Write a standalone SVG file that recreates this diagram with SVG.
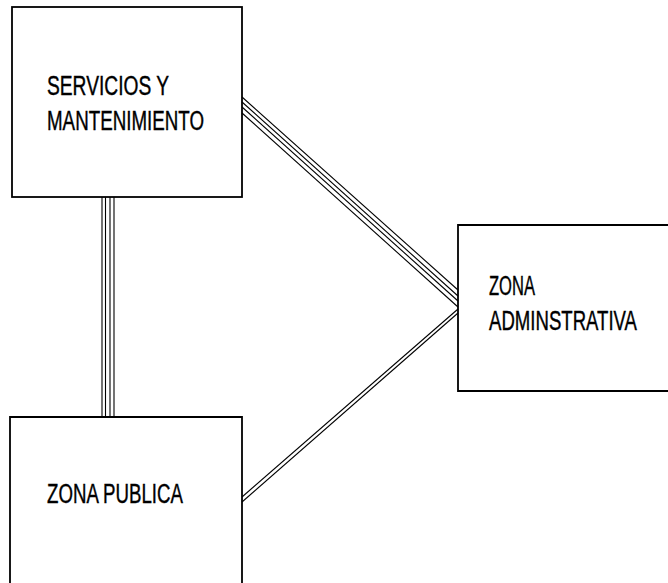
<svg xmlns="http://www.w3.org/2000/svg" width="668" height="583" viewBox="0 0 668 583">
  <style>
    .box { fill: none; stroke: #000000; stroke-width: 1.8; }
    .link line { stroke: #000000; stroke-width: 1.1; }
    .label { font-family: "Liberation Sans", "DejaVu Sans", sans-serif; font-size: 20px; fill: #000000; stroke: #000000; stroke-width: 0.3; }
  </style>
  <rect width="668" height="583" fill="#ffffff"/>

  <!-- connectors -->
  <g id="connectors" class="link">
    <!-- servicios to zona publica: quadruple vertical line -->
    <line x1="102" y1="197" x2="102" y2="417"/>
    <line x1="105.5" y1="197" x2="105.5" y2="417"/>
    <line x1="110" y1="197" x2="110" y2="417"/>
    <line x1="114" y1="197" x2="114" y2="417"/>
    <!-- servicios to zona administrativa: quadruple diagonal line -->
    <line x1="242" y1="97" x2="458" y2="290"/>
    <line x1="242" y1="102" x2="458" y2="296"/>
    <line x1="242" y1="107" x2="458" y2="301"/>
    <line x1="242" y1="113" x2="458" y2="307"/>
    <!-- zona publica to zona administrativa: double diagonal line -->
    <line x1="242" y1="497" x2="458" y2="309"/>
    <line x1="242" y1="502" x2="458" y2="313"/>
  </g>

  <!-- labels use tall, narrow lettering: stretched vertically -->
  <g id="servicios">
    <rect class="box" x="12" y="7" width="230" height="190"/>
    <text class="label" transform="translate(47,95) scale(1,1.4)" textLength="122" lengthAdjust="spacingAndGlyphs">SERVICIOS Y</text>
    <text class="label" transform="translate(47,130) scale(1,1.4)" textLength="157" lengthAdjust="spacingAndGlyphs">MANTENIMIENTO</text>
  </g>

  <g id="zona-administrativa">
    <!-- box runs past the right edge of the sheet -->
    <path class="box" d="M668,225 H458 V391 H668"/>
    <text class="label" transform="translate(489,295) scale(1,1.4)" textLength="46" lengthAdjust="spacingAndGlyphs">ZONA</text>
    <text class="label" transform="translate(489,330) scale(1,1.4)" textLength="148" lengthAdjust="spacingAndGlyphs">ADMINSTRATIVA</text>
  </g>

  <g id="zona-publica">
    <!-- box runs past the bottom edge of the sheet -->
    <path class="box" d="M10,583 V417 H242 V583"/>
    <text class="label" transform="translate(47,503) scale(1,1.4)" textLength="136" lengthAdjust="spacingAndGlyphs">ZONA PUBLICA</text>
  </g>
</svg>
